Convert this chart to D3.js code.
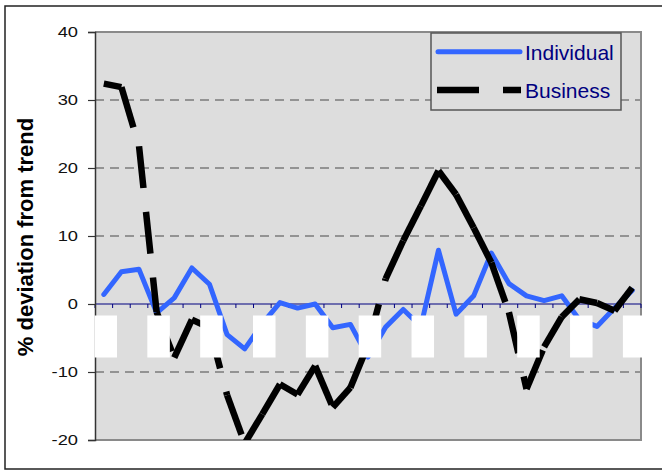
<!DOCTYPE html>
<html>
<head>
<meta charset="utf-8">
<script src="https://cdn.jsdelivr.net/npm/d3@7"></script>
<style>
  html, body { margin: 0; padding: 0; background: #fff; }
  svg { display: block; font-family: Arial, "Liberation Sans", sans-serif; }
</style>
</head>
<body>
<svg id="chart" width="662" height="471"></svg>
<script>
// ---- data ----
const categories = ["1","2","3","4","5","6","7","8","9","10","11","12","13","14","15","16",
                    "17","18","19","20","21","22","23","24","25","26","27","28","29","30","31"];
const individual = [1.4, 4.75, 5.1, -1.3, 0.9, 5.3, 2.9, -4.5, -6.6, -2.9, 0.2, -0.6, 0.0, -3.5, -3.0,
                    -7.8, -3.4, -0.8, -3.3, 7.9, -1.5, 1.2, 7.5, 3.0, 1.2, 0.5, 1.2, -2.3, -3.3, -0.6, 2.0];
const business   = [32.4, 31.9, 23.2, -1.2, -7.9, -2.3, -3.5, -13.4, -20.5, -16.2, -11.8, -13.3, -9.1, -15.2, -12.3,
                    -6.0, 3.7, 9.3, 14.4, 19.6, 16.1, 11.2, 6.1, -1.2, -12.5, -6.3, -1.9, 0.7, 0.15, -1.0, 2.4];
const yTicks = [40, 30, 20, 10, 0, -10, -20];
const yTickLabels = ["40", "30", "20", "10", "0", "-10", "-20"];
const gridValues = [30, 20, 10, -10];
const maskedLabelCats = ["1","4","7","10","13","16","19","22","25","28","31"];
const seriesNames = ["Individual", "Business"];
const yTitle = "% deviation from trend";

// ---- layout ----
const L = 95, R = 641, T = 32, B = 440;
const svg = d3.select("#chart");

const x = d3.scaleBand().domain(categories).range([L, R]).paddingInner(0).paddingOuter(0);
const y = d3.scaleLinear().domain([-20, 40]).range([B, T]);
const cx = c => x(c) + x.bandwidth() / 2;

// outer frame
svg.append("rect").attr("x", 5).attr("y", 6).attr("width", 680).attr("height", 463)
  .attr("fill", "#fff").attr("stroke", "#222").attr("stroke-width", 1.5);

// plot area
svg.append("rect").attr("x", L).attr("y", T).attr("width", R - L).attr("height", B - T)
  .attr("fill", "#DDDDDD");

// gridlines
svg.append("g").selectAll("line").data(gridValues).join("line")
  .attr("x1", L).attr("x2", R).attr("y1", d => y(d)).attr("y2", d => y(d))
  .attr("stroke", "#4a4a4a").attr("stroke-width", 1.2).attr("stroke-dasharray", "9 6");

// plot border (top/right/bottom)
svg.append("path")
  .attr("d", `M${L},${T}H${R}V${B}H${L}`)
  .attr("fill", "none").attr("stroke", "#8a8a8a").attr("stroke-width", 2);

// clip
svg.append("clipPath").attr("id", "plotclip").append("rect")
  .attr("x", L).attr("y", T).attr("width", R - L).attr("height", B - T);

// zero axis (navy) with ticks at category boundaries
const zx = svg.append("g");
zx.append("line").attr("x1", L).attr("x2", R).attr("y1", y(0)).attr("y2", y(0))
  .attr("stroke", "#000080").attr("stroke-width", 1.2);
zx.selectAll("line.tk").data(categories.concat(["__end"])).join("line").attr("class", "tk")
  .attr("x1", d => d === "__end" ? R : x(d)).attr("x2", d => d === "__end" ? R : x(d))
  .attr("y1", y(0)).attr("y2", y(0) + 4)
  .attr("stroke", "#000080").attr("stroke-width", 1);

// y axis
const yAxis = svg.append("g").attr("transform", `translate(${L},0)`)
  .call(d3.axisLeft(y).tickValues(yTicks).tickSize(7).tickPadding(10)
    .tickFormat((d, i) => yTickLabels[i]));
yAxis.select(".domain").attr("stroke", "#333").attr("stroke-width", 1.5);
yAxis.selectAll(".tick line").attr("stroke", "#333").attr("stroke-width", 1.2);
yAxis.selectAll(".tick text").attr("font-size", 15).attr("fill", "#111")
  .attr("font-family", "Arial, 'Liberation Sans', sans-serif")
  .attr("transform", "scale(1.22,1)").attr("x", -17 / 1.22);

// series
const lines = svg.append("g").attr("clip-path", "url(#plotclip)");
const lineGen = d3.line().x((d, i) => cx(categories[i])).y(d => y(d));
lines.append("path").datum(individual).attr("d", lineGen)
  .attr("fill", "none").attr("stroke", "#3366FF").attr("stroke-width", 5)
  .attr("stroke-linejoin", "round").attr("stroke-linecap", "round");

const segs = d3.pairs(business.map((v, i) => ({c: categories[i], v})));
lines.append("g").selectAll("line").data(segs).join("line")
  .attr("x1", d => cx(d[0].c)).attr("y1", d => y(d[0].v))
  .attr("x2", d => cx(d[1].c)).attr("y2", d => y(d[1].v))
  .attr("stroke", "#000").attr("stroke-width", 6.5)
  .attr("stroke-dasharray", "42 24").attr("stroke-linecap", "butt");

// masked category labels (white boxes)
svg.append("g").selectAll("rect").data(maskedLabelCats).join("rect")
  .attr("x", d => x(d) - 0.5).attr("y", y(0) + 11.5)
  .attr("width", d => Math.min(22.5, R + 2 - x(d))).attr("height", 42)
  .attr("fill", "#fff");

// y title
svg.append("text").attr("transform", "translate(33,237) rotate(-90)")
  .attr("text-anchor", "middle").attr("font-size", 22).attr("font-weight", "bold")
  .attr("fill", "#000").text(yTitle);

// legend
const lg = svg.append("g");
lg.append("rect").attr("x", 431).attr("y", 33).attr("width", 190).attr("height", 77)
  .attr("fill", "#DDDDDD").attr("stroke", "#555").attr("stroke-width", 1.5);
lg.append("line").attr("x1", 438).attr("x2", 520).attr("y1", 51.7).attr("y2", 51.7)
  .attr("stroke", "#3366FF").attr("stroke-width", 5).attr("stroke-linecap", "round");
lg.append("line").attr("x1", 437).attr("x2", 521).attr("y1", 90).attr("y2", 90)
  .attr("stroke", "#000").attr("stroke-width", 6.5).attr("stroke-dasharray", "42 24");
lg.selectAll("text").data(seriesNames).join("text")
  .attr("x", 525).attr("y", (d, i) => i === 0 ? 60 : 98)
  .attr("font-size", 21).attr("fill", "#000080").text(d => d);
</script>
</body>
</html>
